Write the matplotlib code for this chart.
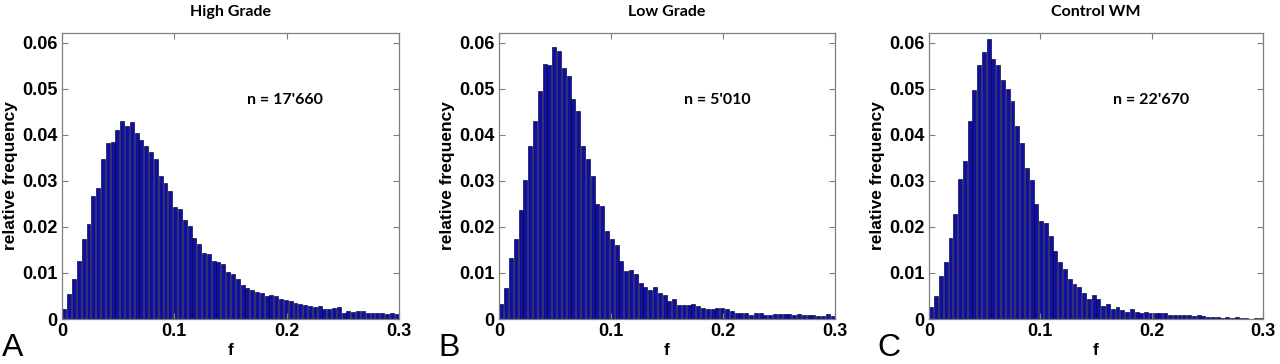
import numpy as np
import matplotlib
matplotlib.use("Agg")
import matplotlib.pyplot as plt

# ---- data (relative frequency per bin, 70 bins spanning f = 0 .. 0.3) ----
titles = ["High Grade", "Low Grade", "Control WM"]
n_labels = ["n = 17'660", "n = 5'010", "n = 22'670"]
panel_letters = ["A", "B", "C"]

high_grade = [0.0022, 0.0055, 0.0086, 0.0126, 0.0173, 0.0206, 0.0266, 0.0285, 0.0347, 0.0382,
              0.0385, 0.0410, 0.0431, 0.0420, 0.0428, 0.0404, 0.0389, 0.0376, 0.0363, 0.0347,
              0.0311, 0.0295, 0.0278, 0.0244, 0.0239, 0.0216, 0.0201, 0.0176, 0.0162, 0.0143,
              0.0141, 0.0126, 0.0123, 0.0120, 0.0101, 0.0097, 0.0086, 0.0073, 0.0067, 0.0062,
              0.0059, 0.0056, 0.0050, 0.0052, 0.0049, 0.0043, 0.0041, 0.0040, 0.0034, 0.0032,
              0.0030, 0.0028, 0.0027, 0.0029, 0.0021, 0.0021, 0.0023, 0.0025, 0.0014, 0.0018,
              0.0016, 0.0017, 0.0017, 0.0012, 0.0012, 0.0012, 0.0012, 0.0010, 0.0012, 0.0011]

low_grade = [0.0032, 0.0068, 0.0132, 0.0174, 0.0237, 0.0302, 0.0375, 0.0429, 0.0496, 0.0554,
             0.0552, 0.0590, 0.0583, 0.0545, 0.0528, 0.0478, 0.0451, 0.0375, 0.0348, 0.0311,
             0.0250, 0.0246, 0.0190, 0.0173, 0.0161, 0.0125, 0.0105, 0.0107, 0.0097, 0.0079,
             0.0070, 0.0064, 0.0069, 0.0057, 0.0053, 0.0040, 0.0043, 0.0030, 0.0030, 0.0031,
             0.0033, 0.0028, 0.0023, 0.0021, 0.0021, 0.0023, 0.0023, 0.0022, 0.0018, 0.0014,
             0.0012, 0.0012, 0.0009, 0.0012, 0.0012, 0.0009, 0.0009, 0.0011, 0.0010, 0.0011,
             0.0010, 0.0009, 0.0010, 0.0009, 0.0009, 0.0008, 0.0006, 0.0007, 0.0010, 0.0006]

control_wm = [0.0025, 0.0050, 0.0093, 0.0124, 0.0176, 0.0229, 0.0304, 0.0344, 0.0431, 0.0498,
              0.0551, 0.0579, 0.0609, 0.0565, 0.0552, 0.0520, 0.0499, 0.0474, 0.0420, 0.0382,
              0.0328, 0.0301, 0.0249, 0.0212, 0.0209, 0.0180, 0.0148, 0.0123, 0.0108, 0.0087,
              0.0076, 0.0070, 0.0057, 0.0044, 0.0052, 0.0043, 0.0028, 0.0033, 0.0022, 0.0025,
              0.0020, 0.0016, 0.0022, 0.0016, 0.0012, 0.0015, 0.0014, 0.0014, 0.0014, 0.0014,
              0.0009, 0.0009, 0.0008, 0.0009, 0.0008, 0.0006, 0.0008, 0.0006, 0.0005, 0.0004,
              0.0005, 0.0003, 0.0004, 0.0003, 0.0004, 0.0003, 0.0002, 0.0001, 0.0003, 0.0003]

series = [high_grade, low_grade, control_wm]
x_ticks = [0, 0.1, 0.2, 0.3]
x_tick_labels = ["0", "0.1", "0.2", "0.3"]
y_ticks = [0, 0.01, 0.02, 0.03, 0.04, 0.05, 0.06]
y_tick_labels = ["0", "0.01", "0.02", "0.03", "0.04", "0.05", "0.06"]
f_min, f_max, n_bins = 0.0, 0.3, 70

# ---- figure ----
W, H = 1280, 364
fig = plt.figure(figsize=(W / 100, H / 100), dpi=100)

axes_px = [(62, 399), (499, 835), (929, 1263)]
top_px, bottom_px = 33, 319
letter_x_px = [2, 438, 877]

edges = np.linspace(f_min, f_max, n_bins + 1)
binw = edges[1] - edges[0]
centers = (edges[:-1] + edges[1:]) / 2

label_font = "Liberation Sans"
title_font = "Lato"
spine_col = "#7f7f7f"

for i, (vals, (l, r)) in enumerate(zip(series, axes_px)):
    ax = fig.add_axes([l / W, 1 - bottom_px / H, (r - l) / W, (bottom_px - top_px) / H])
    ax.bar(centers, vals, width=binw * 0.82, color="#0f0fa0", edgecolor="#00003a",
           linewidth=0.45, align="center")
    ax.set_xlim(f_min, f_max)
    ax.set_ylim(0, 0.0621)
    ax.set_xticks(x_ticks)
    ax.set_xticklabels(x_tick_labels, fontfamily=label_font, fontweight="bold", fontsize=13)
    ax.set_yticks(y_ticks)
    ax.set_yticklabels(y_tick_labels, fontfamily=label_font, fontweight="bold", fontsize=13)
    ax.tick_params(direction="in", length=4, width=0.8, color=spine_col,
                   top=True, right=True, pad=3)
    for s in ax.spines.values():
        s.set_color(spine_col)
        s.set_linewidth(0.9)
    ax.set_ylabel("relative frequency", fontfamily=label_font, fontweight="bold",
                  fontsize=12.5, labelpad=3)
    ax.set_xlabel("f", fontfamily=label_font, fontweight="bold", fontsize=12.5, labelpad=2)
    ax.set_title(titles[i], fontfamily=title_font, fontweight="bold", fontsize=11.5, pad=12)
    ax.text(0.55, 0.765, n_labels[i], transform=ax.transAxes, fontfamily=title_font,
            fontweight="bold", fontsize=11.5, ha="left", va="center")
    fig.text(letter_x_px[i] / W, 1 / H, panel_letters[i], fontfamily=label_font,
             fontsize=23, ha="left", va="bottom")

fig.savefig("out.png", dpi=100)
